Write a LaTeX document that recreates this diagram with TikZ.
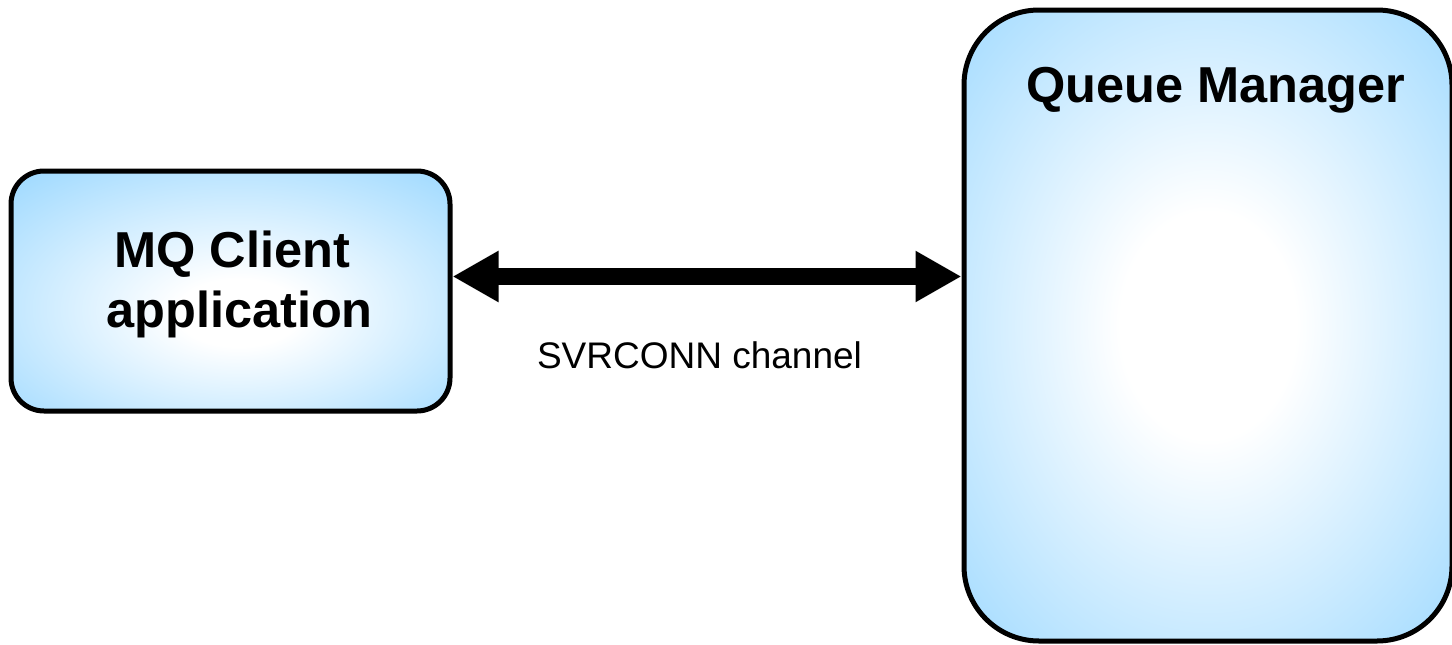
\documentclass[tikz,border=0pt]{standalone}
\usepackage{fontspec}
\setmainfont{Liberation Sans}
\usetikzlibrary{arrows.meta}
\definecolor{skyb}{RGB}{155,216,255}
\pgfdeclareradialshading{qmshade}{\pgfpoint{0bp}{0bp}}{color(0bp)=(white); color(9bp)=(white); color(38bp)=(skyb); color(80bp)=(skyb)}
\pgfdeclareradialshading{clshade}{\pgfpoint{1bp}{-5bp}}{color(0bp)=(white); color(7bp)=(white); color(38bp)=(skyb); color(80bp)=(skyb)}
\tikzset{
  box/.style={draw=black, line width=5pt, inner sep=0pt},
  title/.style={font=\fontsize{50.5}{60}\selectfont\bfseries, align=center, inner sep=0pt},
  chlabel/.style={font=\fontsize{37}{40}\selectfont, inner sep=0pt},
  bigarrow/.style={line width=17pt, {Triangle[length=46pt,width=48pt]}-{Triangle[length=46pt,width=48pt]}}
}
\begin{document}
\begin{tikzpicture}[x=1pt,y=-1pt]
\useasboundingbox (0,0) rectangle (1452,645);
\node[box, rounded corners=33pt, shading=clshade, minimum width=439pt, minimum height=240pt] (client) at (230.5,291) {};
\node[box, rounded corners=75pt, shading=qmshade, minimum width=488pt, minimum height=631pt] (qm) at (1208,325.5) {};
\node[title] (clienttext) at (239.5,284) {MQ Client\hspace*{0.278em}\\application};
\node[title, anchor=base] (qmtext) at (1216,102) {Queue Manager};
\draw[bigarrow] (client.east |- 0,276.5) -- (qm.west |- 0,276.5);
\node[chlabel, anchor=base] (chan) at (699.5,368) {SVRCONN channel};
\end{tikzpicture}
\end{document}
